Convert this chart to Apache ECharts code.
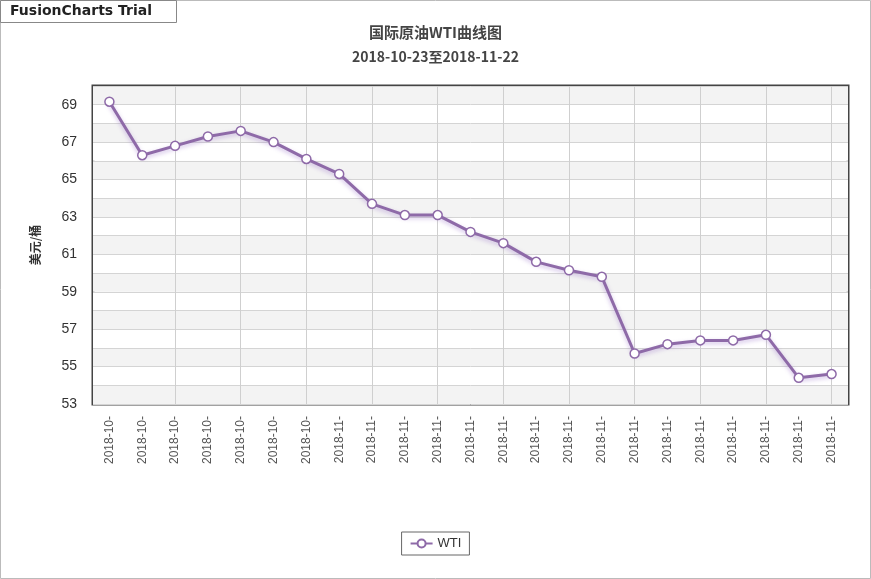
<!DOCTYPE html>
<html><head><meta charset="utf-8">
<script src="https://cdn.jsdelivr.net/npm/echarts@6/dist/echarts.min.js"></script>
<style>html,body{margin:0;padding:0;background:#fff}#c{width:871px;height:579px}</style>
</head><body><div id="c"></div>
<script>
const categories = ['2018-10-23','2018-10-24','2018-10-25','2018-10-26','2018-10-29','2018-10-30','2018-10-31','2018-11-01','2018-11-02','2018-11-05','2018-11-06','2018-11-07','2018-11-08','2018-11-09','2018-11-12','2018-11-13','2018-11-14','2018-11-15','2018-11-16','2018-11-19','2018-11-20','2018-11-21','2018-11-22'];
const wti = [69.16,66.3,66.8,67.3,67.6,67.0,66.1,65.3,63.7,63.1,63.1,62.2,61.6,60.6,60.15,59.8,55.7,56.2,56.4,56.4,56.7,54.4,54.6];
const yTicks = [53,55,57,59,61,63,65,67,69];
const chart = echarts.init(document.getElementById('c'));
const font = "'Noto Sans CJK SC', 'DejaVu Sans', sans-serif";
const vLines = categories.map((c,i)=>i).filter(i=>i>0 && i%2===0).map(i=>({xAxis:i}));
chart.setOption({
  backgroundColor:'#fff',
  animation:false,
  title:{text:'国际原油WTI曲线图',subtext:'2018-10-23至2018-11-22',left:'center',top:20,itemGap:10,
    textStyle:{fontSize:15,fontWeight:'bold',color:'#444',fontFamily:font},
    subtextStyle:{fontSize:14,fontWeight:'bold',color:'#444',fontFamily:font}},
  graphic:[
    {type:'rect',shape:{x:0.5,y:0.5,width:870,height:578},style:{fill:'none',stroke:'#bbb',lineWidth:1}},
    {type:'rect',shape:{x:0.5,y:0.5,width:176,height:22},style:{fill:'#fff',stroke:'#888',lineWidth:1}},
    {type:'text',left:10,top:4,style:{text:'FusionCharts Trial',fontSize:14,fontWeight:'bold',fill:'#222',fontFamily:'DejaVu Sans'}}
  ],
  legend:{bottom:24,left:'center',data:['WTI'],itemWidth:22,itemHeight:10,
    borderColor:'#666',borderWidth:1,padding:[5,8],textStyle:{fontSize:13,color:'#333'}},
  grid:{left:93,right:23,top:86,bottom:175,show:true,borderColor:'#444',borderWidth:3,backgroundColor:'transparent'},
  xAxis:{type:'value',min:-0.5,max:22.5,interval:0.5,
    axisLine:{show:false},axisTick:{show:false},
    splitLine:{show:false},
    axisLabel:{rotate:90,margin:12,color:'#555',fontSize:12,
      formatter:function(v){const i=Math.round(v);return (Math.abs(v-i)<1e-6&&categories[i])?categories[i].slice(0,8):'';}}},
  yAxis:{type:'value',min:53,max:70,interval:1,name:'美元/桶',nameLocation:'middle',nameGap:52,nameRotate:90,
    nameTextStyle:{fontSize:12,fontWeight:'bold',color:'#333',fontFamily:font},
    axisLine:{show:false},axisTick:{show:false},
    axisLabel:{color:'#333',fontSize:14,margin:16,formatter:function(v){return yTicks.indexOf(v)>=0?String(v):'';}},
    splitLine:{lineStyle:{color:'#d4d4d4'}},
    splitArea:{show:true,areaStyle:{color:['#f3f3f3','#ffffff']}}},
  series:[{name:'WTI',type:'line',data:wti.map((v,i)=>[i,v]),symbol:'circle',symbolSize:9,z:3,
    lineStyle:{color:'#8e6aa8',width:3,shadowColor:'rgba(150,110,200,0.45)',shadowBlur:4,shadowOffsetY:2},
    itemStyle:{color:'#fff',borderColor:'#8e6aa8',borderWidth:1.5},
    markLine:{silent:true,symbol:'none',label:{show:false},z:1,
      lineStyle:{color:'#cfcfcf',type:'solid',width:1},data:vLines}}]
});
</script></body></html>
